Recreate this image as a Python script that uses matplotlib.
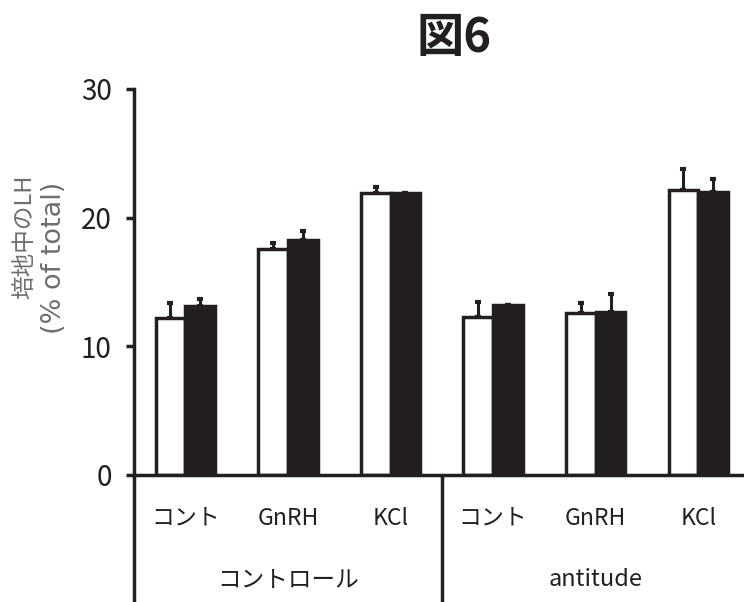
import matplotlib
matplotlib.use("Agg")
import matplotlib.pyplot as plt
import numpy as np

plt.rcParams['font.family'] = ['Noto Sans CJK JP', 'DejaVu Sans']

categories = ["コント", "GnRH", "KCl", "コント", "GnRH", "KCl"]
groups = ["コントロール", "antitude"]
white_vals = [12.2, 17.6, 21.9, 12.3, 12.6, 22.15]
white_err = [1.2, 0.45, 0.45, 1.15, 0.75, 1.6]
black_vals = [13.1, 18.3, 21.9, 13.2, 12.65, 22.0]
black_err = [0.6, 0.7, 0.05, 0.05, 1.45, 1.0]
yticks = [0, 10, 20, 30]

fig = plt.figure(figsize=(7.44, 6.02), dpi=100)
ax = fig.add_axes([134/744, (602-475)/602, 1 - 134/744, (475-89)/602])

x = np.arange(len(categories))
w = 0.29
dark = "#231f20"
lw = 2.5
ax.bar(x - w/2, white_vals, w, color="white", edgecolor=dark, linewidth=lw, zorder=2)
ax.bar(x + w/2, black_vals, w, color=dark, edgecolor=dark, linewidth=lw, zorder=2)
ax.errorbar(x - w/2, white_vals, yerr=[np.zeros(len(x)), white_err], fmt='none',
            ecolor=dark, elinewidth=2.2, capsize=2.5, capthick=3, zorder=1)
ax.errorbar(x + w/2, black_vals, yerr=[np.zeros(len(x)), black_err], fmt='none',
            ecolor=dark, elinewidth=2.2, capsize=2.5, capthick=3, zorder=1)

ax.set_xlim(-0.5, 5.445)
ax.set_ylim(0, 30)
ax.set_yticks(yticks)
ax.set_yticklabels([str(v) for v in yticks], fontsize=20, color=dark)
ax.tick_params(axis='y', length=6, width=2.5, color=dark, pad=10)
ax.set_xticks([])
for s in ['top', 'right']:
    ax.spines[s].set_visible(False)
for s in ['left', 'bottom']:
    ax.spines[s].set_linewidth(2.5)
    ax.spines[s].set_color(dark)

trans = ax.get_xaxis_transform()
for xi, c in zip(x, categories):
    ax.text(xi, -0.112, c, transform=trans, ha='center', va='center', fontsize=16.5, color=dark)
for gi, g in enumerate(groups):
    ax.text(gi*3 + 1, -0.27, g, transform=trans, ha='center', va='center', fontsize=17, color=dark)
ax.plot([-0.5, -0.5], [0, -0.34], transform=trans, color=dark, lw=2.5, clip_on=False, solid_capstyle='butt')
ax.plot([2.5, 2.5], [0, -0.34], transform=trans, color=dark, lw=2.5, clip_on=False, solid_capstyle='butt')

fig.text(454/744, 1 - 38/602, "図6", ha='center', va='center', fontsize=34, fontweight='bold', color=dark)
fig.text(25/744, 1 - 237/602, "培地中のLH", rotation=90, ha='center', va='center', fontsize=17, color="#6e6e6e")
fig.text(54/744, 1 - 258/602, "(% of total)", rotation=90, ha='center', va='center', fontsize=19.5,
         color="#6e6e6e", family=['DejaVu Sans'])

fig.savefig("out.png", dpi=100)
